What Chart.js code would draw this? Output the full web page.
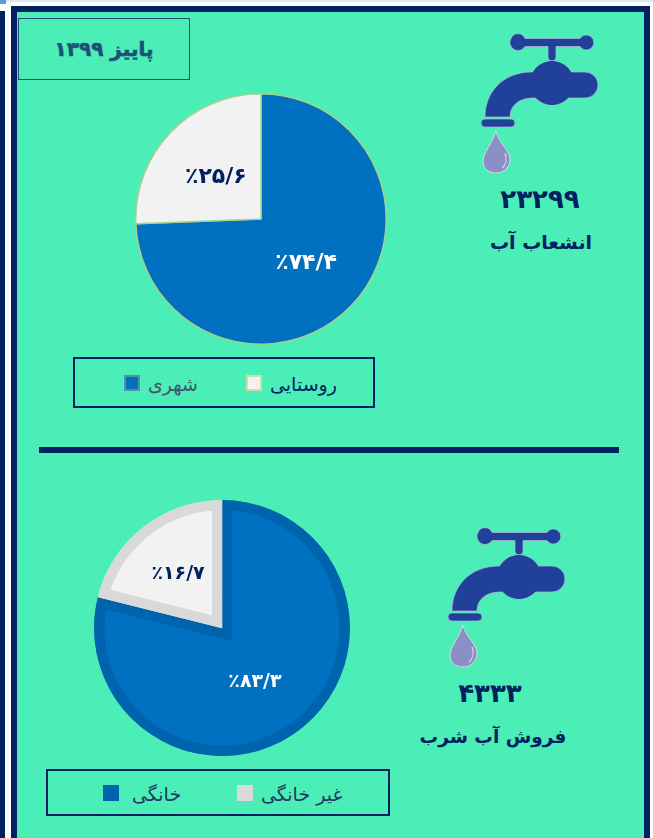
<!DOCTYPE html>
<html lang="fa">
<head>
<meta charset="utf-8">
<title>پاییز ۱۳۹۹</title>
<script src="https://cdn.jsdelivr.net/npm/chart.js@4/dist/chart.umd.min.js"></script>
<style>
    html, body { margin: 0; padding: 0; background: #fdfdfe; }
    body { width: 653px; height: 838px; position: relative; overflow: hidden; font-family: "DejaVu Sans", sans-serif; color: #002060; }
    .abs { position: absolute; }
    #bar { left: 0; top: 0; width: 653px; height: 2px; background: #dde8f5; }
    #corner { left: 0; top: 0; width: 6px; height: 4px; background: #5b9bd5; }
    #panel { left: 11px; top: 6px; width: 627px; height: 840px; background: #4beeb6; border: 6px solid #002060; }
    #strip { left: 0; top: 11px; width: 5px; height: 827px; background: #002060; }
    #title { left: 18px; top: 18px; width: 170px; height: 60px; border: 1.5px solid #1f4e79; color: #1f4e79; font-weight: bold; font-size: 20px; line-height: 60px; text-align: center; direction: rtl; -webkit-text-stroke: 0.6px #1f4e79; }
    #divider { left: 39px; top: 447px; width: 580px; height: 6px; background: #002060; }
    .legend { display: flex; align-items: center; border: 2px solid #002060; box-sizing: border-box; font-size: 19px; }
    .legend .item { display: flex; align-items: center; flex: none; }
    .legend i { display: block; flex: none; box-sizing: border-box; width: 16px; height: 16px; }
    .legend b { font-weight: normal; direction: rtl; padding-top: 3px; white-space: nowrap; }
    .num, .cap { text-align: center; direction: rtl; color: #002060; font-weight: bold; }
    .num { font-size: 26px; }
    .cap { font-size: 19px; }
    svg.tap { position: absolute; width: 120px; height: 145px; }
</style>
</head>
<body>
<svg width="0" height="0" style="position:absolute">
    <symbol id="faucet" viewBox="0 0 120 145">
        <g fill="#21409a" stroke="#b9b6dc" stroke-width="0.7">
            <path d="M31 5.5 A7.5 7.5 0 0 1 45 5.5 H100 A7.5 7.5 0 1 1 100 13.5 H76 V24 A4 4 0 0 1 68 24 V13.5 H45 A7.5 7.5 0 0 1 31 5.5 Z"/>
            <circle cx="72" cy="50" r="22"/>
            <path d="M5 84 C5 60 22 39 52 39 H105 A13 13 0 0 1 105 65 H53 C40 65 30 72 30 84 Z"/>
            <circle cx="72" cy="50" r="22" stroke="none"/>
            <rect x="1" y="86" width="34" height="8" rx="4"/>
        </g>
        <path d="M15.7 98 C13 110 3 120 3 128 C3 136 9 140 16 140 C24 140 30 134 30 126 C30 118 19 110 15.7 98 Z" fill="#8a8fc6" stroke="#d8d6ea" stroke-width="1"/>
        <path d="M25 120 C27 126 26 132 22 135" fill="none" stroke="#d8d6ea" stroke-width="1.2"/>
    </symbol>
</svg>

<div class="abs" id="bar"></div>
<div class="abs" id="corner"></div>
<div class="abs" id="strip"></div>
<div class="abs" id="panel"></div>
<div class="abs" id="title">پاییز ۱۳۹۹</div>
<div class="abs" id="divider"></div>

<svg class="tap" style="left:480px;top:33px"><use href="#faucet"/></svg>
<div class="abs num" style="left:470px;top:184px;width:140px">۲۳۲۹۹</div>
<div class="abs cap" style="left:471px;top:231px;width:140px">انشعاب آب</div>

<svg class="tap" style="left:447px;top:527px"><use href="#faucet"/></svg>
<div class="abs num" style="left:420px;top:678px;width:140px">۴۳۳۳</div>
<div class="abs cap" style="left:413px;top:726px;width:160px;font-size:18.5px">فروش آب شرب</div>

<div class="abs" style="left:135px;top:93px;width:252px;height:252px"><canvas id="pieTop"></canvas></div>
<div class="abs" style="left:94px;top:500px;width:256px;height:256px"><canvas id="pieBottom"></canvas></div>

<div class="abs legend" id="legendTop" style="left:73px;top:357px;width:302px;height:51px;padding-left:49px"></div>
<div class="abs legend" id="legendBottom" style="left:46px;top:769px;width:344px;height:47px;padding-left:55px"></div>

<script>
// پاییز ۱۳۹۹
const topCategories = ['شهری', 'روستایی'];
const topValues = [74.4, 25.6];
const topLabels = ['٪۷۴/۴', '٪۲۵/۶'];
const topColors = ['#0070c0', '#f2f2f2'];

const bottomCategories = ['خانگی', 'غیر خانگی'];
// the slices in the picture are not drawn to the printed percents (gray is about 21%)
const bottomValues = [78.9, 21.1];
const bottomLabels = ['٪۸۳/۳', '٪۱۶/۷'];
const bottomColors = ['#0070c0', '#f2f2f2'];
const bottomBorders = ['#0063ad', '#d9d9d9'];

const labelColors = ['#ffffff', '#002060'];

// chart.js has no datalabels by default, so write the percents on the slices
const sliceLabels = {
    id: 'sliceLabels',
    afterDatasetsDraw(chart, args, opts) {
        const ctx = chart.ctx;
        const meta = chart.getDatasetMeta(0);
        ctx.save();
        ctx.font = 'bold ' + opts.size + 'px "DejaVu Sans"';
        ctx.textAlign = 'center';
        ctx.textBaseline = 'middle';
        ctx.direction = 'ltr';
        meta.data.forEach(function(arc, i) {
            const p = arc.getProps(['x', 'y', 'startAngle', 'endAngle', 'outerRadius']);
            const mid = (p.startAngle + p.endAngle) / 2;
            const r = p.outerRadius * opts.offset;
            ctx.fillStyle = labelColors[i];
            ctx.fillText(opts.texts[i], p.x + Math.cos(mid) * r + opts.shift[i][0], p.y + Math.sin(mid) * r + opts.shift[i][1]);
        });
        ctx.restore();
    }
};

function makePie(id, categories, values, dataset, labels) {
    return new Chart(document.getElementById(id), {
        type: 'pie',
        data: {
            labels: categories,
            datasets: [Object.assign({ data: values }, dataset)],
        },
        options: {
            responsive: true,
            maintainAspectRatio: false,
            animation: false,
            layout: { padding: 0 },
            plugins: {
                legend: { display: false },
                tooltip: { enabled: false },
                sliceLabels: labels,
            },
        },
        plugins: [sliceLabels],
    });
}

makePie('pieTop', topCategories, topValues, {
    backgroundColor: topColors,
    borderColor: '#a9d18e',
    borderWidth: 1.5,
}, { texts: topLabels, size: 22, offset: 0.5, shift: [[0, 1], [0, 2]] });

makePie('pieBottom', bottomCategories, bottomValues, {
    backgroundColor: bottomColors,
    borderColor: bottomBorders,
    borderWidth: 10,
    borderAlign: 'inner',
    borderJoinStyle: 'miter',
}, { texts: bottomLabels, size: 19, offset: 0.52, shift: [[-8, 2], [-3, -1]] });

function makeLegend(id, categories, fills, borders, textColors, itemWidth, gaps) {
    const box = document.getElementById(id);
    categories.forEach(function(name, i) {
        const item = document.createElement('div');
        item.className = 'item';
        item.style.width = itemWidth + 'px';
        const sw = document.createElement('i');
        sw.style.background = fills[i];
        sw.style.border = '2px solid ' + borders[i];
        sw.style.marginRight = gaps[i] + 'px';
        const text = document.createElement('b');
        text.textContent = name;
        text.style.color = textColors[i];
        item.appendChild(sw);
        item.appendChild(text);
        box.appendChild(item);
    });
}

makeLegend('legendTop', topCategories, topColors, ['#4f93a8', '#c5e0a8'], ['#44546a', '#002060'], 122, [8, 8]);
makeLegend('legendBottom', bottomCategories, ['#0063ad', '#d9d9d9'], ['#0063ad', '#d9d9d9'], ['#1f3864', '#1f3864'], 134, [13, 8]);
</script>
</body>
</html>
